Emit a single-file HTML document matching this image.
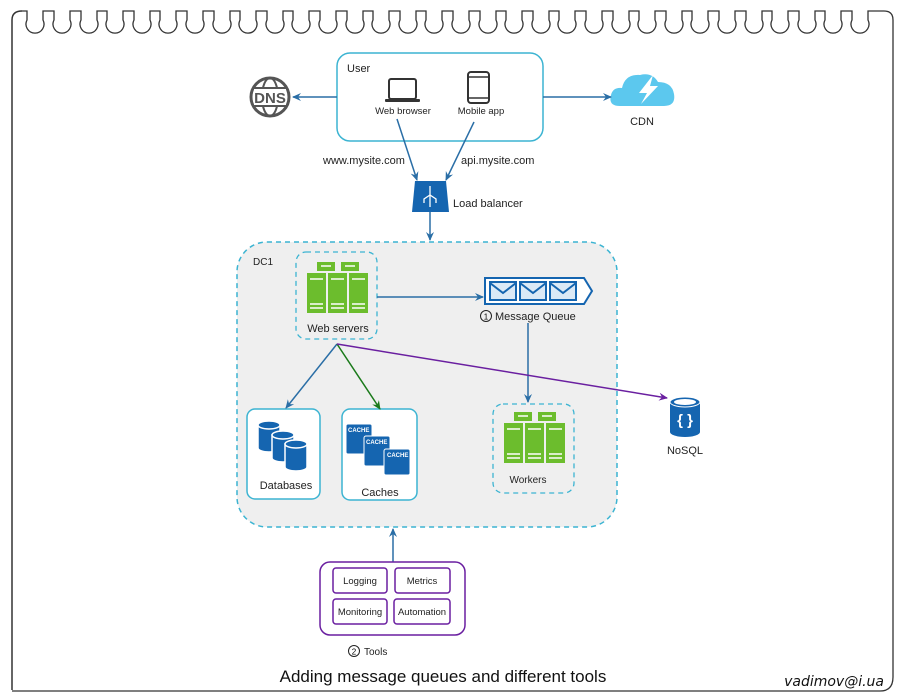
<!DOCTYPE html>
<html><head><meta charset="utf-8"><style>
html,body{margin:0;padding:0;background:#fff;}
svg{display:block;font-family:"Liberation Sans",Arial,sans-serif;}
</style></head><body>
<svg width="900" height="700" viewBox="0 0 900 700" xmlns="http://www.w3.org/2000/svg">
<defs>
<marker id="ab" markerWidth="10" markerHeight="10" refX="8" refY="5" orient="auto" markerUnits="userSpaceOnUse"><path d="M0,1 L9,5 L0,9 L3,5 Z" fill="#2a6ea6"/></marker>
<marker id="ag" markerWidth="10" markerHeight="10" refX="8" refY="5" orient="auto" markerUnits="userSpaceOnUse"><path d="M0,1 L9,5 L0,9 L3,5 Z" fill="#1a7a1a"/></marker>
<marker id="ap" markerWidth="10" markerHeight="10" refX="8" refY="5" orient="auto" markerUnits="userSpaceOnUse"><path d="M0,1 L9,5 L0,9 L3,5 Z" fill="#6a1fa0"/></marker>
<g id="srv">
<rect x="10" y="0" width="18" height="9" fill="#6cbd2d"/><rect x="34" y="0" width="18" height="9" fill="#6cbd2d"/>
<rect x="0" y="11" width="19" height="40" fill="#6cbd2d"/><rect x="21" y="11" width="19" height="40" fill="#6cbd2d"/><rect x="42" y="11" width="19" height="40" fill="#6cbd2d"/>
<g stroke="#fff" stroke-width="1.5"><line x1="3" y1="17" x2="16" y2="17"/><line x1="24" y1="17" x2="37" y2="17"/><line x1="45" y1="17" x2="58" y2="17"/>
<line x1="3" y1="42" x2="16" y2="42"/><line x1="24" y1="42" x2="37" y2="42"/><line x1="45" y1="42" x2="58" y2="42"/>
<line x1="3" y1="46" x2="16" y2="46"/><line x1="24" y1="46" x2="37" y2="46"/><line x1="45" y1="46" x2="58" y2="46"/>
<line x1="14" y1="4" x2="24" y2="4"/><line x1="38" y1="4" x2="48" y2="4"/></g>
</g>
</defs>

<path d="M12,690 L12,20 Q12,11 22,11" fill="none" stroke="#333" stroke-width="1.5"/>
<path fill="none" stroke="#333" stroke-width="1.3" d="M22,11
L27,11 L27,20 A9,9 0 1 0 43,20 L43,11
L54,11 L54,20 A9,9 0 1 0 70,20 L70,11
L81,11 L81,20 A9,9 0 1 0 97,20 L97,11
L107,11 L107,20 A9,9 0 1 0 123,20 L123,11
L134,11 L134,20 A9,9 0 1 0 150,20 L150,11
L160,11 L160,20 A9,9 0 1 0 176,20 L176,11
L187,11 L187,20 A9,9 0 1 0 203,20 L203,11
L214,11 L214,20 A9,9 0 1 0 230,20 L230,11
L240,11 L240,20 A9,9 0 1 0 256,20 L256,11
L267,11 L267,20 A9,9 0 1 0 283,20 L283,11
L293,11 L293,20 A9,9 0 1 0 309,20 L309,11
L320,11 L320,20 A9,9 0 1 0 336,20 L336,11
L347,11 L347,20 A9,9 0 1 0 363,20 L363,11
L373,11 L373,20 A9,9 0 1 0 389,20 L389,11
L400,11 L400,20 A9,9 0 1 0 416,20 L416,11
L426,11 L426,20 A9,9 0 1 0 442,20 L442,11
L453,11 L453,20 A9,9 0 1 0 469,20 L469,11
L480,11 L480,20 A9,9 0 1 0 496,20 L496,11
L506,11 L506,20 A9,9 0 1 0 522,20 L522,11
L533,11 L533,20 A9,9 0 1 0 549,20 L549,11
L559,11 L559,20 A9,9 0 1 0 575,20 L575,11
L586,11 L586,20 A9,9 0 1 0 602,20 L602,11
L613,11 L613,20 A9,9 0 1 0 629,20 L629,11
L639,11 L639,20 A9,9 0 1 0 655,20 L655,11
L666,11 L666,20 A9,9 0 1 0 682,20 L682,11
L692,11 L692,20 A9,9 0 1 0 708,20 L708,11
L719,11 L719,20 A9,9 0 1 0 735,20 L735,11
L746,11 L746,20 A9,9 0 1 0 762,20 L762,11
L772,11 L772,20 A9,9 0 1 0 788,20 L788,11
L799,11 L799,20 A9,9 0 1 0 815,20 L815,11
L825,11 L825,20 A9,9 0 1 0 841,20 L841,11
L852,11 L852,20 A9,9 0 1 0 868,20 L868,11
L884,11 Q893,11 893,20 L893,677 Q893,691 880,691 L12,691"/>

<rect x="337" y="53" width="206" height="88" rx="13" fill="#fff" stroke="#3cb4d2" stroke-width="1.5"/>
<text x="347" y="72" font-size="11" fill="#222">User</text>
<rect x="389" y="79" width="27" height="20" rx="2" fill="none" stroke="#333" stroke-width="2"/>
<rect x="385" y="99" width="35" height="3" rx="1" fill="#333"/>
<text x="403" y="114" font-size="9.5" fill="#222" text-anchor="middle">Web browser</text>
<rect x="468" y="72" width="21" height="31" rx="3" fill="none" stroke="#333" stroke-width="2"/>
<line x1="468" y1="77" x2="489" y2="77" stroke="#333" stroke-width="1.5"/><line x1="468" y1="98" x2="489" y2="98" stroke="#333" stroke-width="1.5"/>
<text x="481" y="114" font-size="9.5" fill="#222" text-anchor="middle">Mobile app</text>

<circle cx="270" cy="97" r="19" fill="none" stroke="#555" stroke-width="3"/>
<ellipse cx="270" cy="97" rx="8" ry="19" fill="none" stroke="#555" stroke-width="2"/>
<line x1="253" y1="88" x2="287" y2="88" stroke="#555" stroke-width="2"/><line x1="253" y1="106" x2="287" y2="106" stroke="#555" stroke-width="2"/>
<rect x="254" y="89" width="32" height="16" fill="#fff"/>
<text x="270" y="103" font-size="15" font-weight="bold" fill="#555" text-anchor="middle">DNS</text>
<line x1="337" y1="97" x2="293" y2="97" stroke="#2a6ea6" stroke-width="1.5" marker-end="url(#ab)"/>

<path d="M620,106 Q608,106 611,95 Q613,87 622,88 Q625,74 640,75 Q652,72 658,82 Q672,82 674,94 Q676,106 664,106 Z" fill="#5cc8ee"/>
<path d="M653,75 L639,93 L647,93 L641,104 L658,86 L650,86 Z" fill="#fff"/>
<text x="642" y="125" font-size="11" fill="#222" text-anchor="middle">CDN</text>
<line x1="543" y1="97" x2="611" y2="97" stroke="#2a6ea6" stroke-width="1.5" marker-end="url(#ab)"/>

<text x="323" y="164" font-size="11" fill="#222">www.mysite.com</text>
<text x="461" y="164" font-size="11" fill="#222">api.mysite.com</text>
<line x1="397" y1="119" x2="417" y2="180" stroke="#2a6ea6" stroke-width="1.5" marker-end="url(#ab)"/>
<line x1="474" y1="122" x2="446" y2="180" stroke="#2a6ea6" stroke-width="1.5" marker-end="url(#ab)"/>

<path d="M415,181 L446,181 L449,212 L412,212 Z" fill="#1565b0"/>
<g stroke="#fff" stroke-width="1.3" fill="none"><line x1="430" y1="186" x2="430" y2="207"/><path d="M430,195 L424,199 L424,203 M430,195 L436,199 L436,203"/></g>
<text x="453" y="207" font-size="11" fill="#222">Load balancer</text>
<line x1="430" y1="212" x2="430" y2="240" stroke="#2a6ea6" stroke-width="1.5" marker-end="url(#ab)"/>

<rect x="237" y="242" width="380" height="285" rx="30" fill="#efefef" stroke="#3cb4d2" stroke-width="1.5" stroke-dasharray="5,4"/>
<text x="253" y="265" font-size="10" fill="#222">DC1</text>

<rect x="296" y="252" width="81" height="87" rx="10" fill="none" stroke="#3cb4d2" stroke-width="1.3" stroke-dasharray="5,4"/>
<use href="#srv" x="307" y="262"/>
<text x="338" y="332" font-size="11" fill="#222" text-anchor="middle">Web servers</text>

<line x1="377" y1="297" x2="483" y2="297" stroke="#2a6ea6" stroke-width="1.5" marker-end="url(#ab)"/>
<path d="M485,278 L584,278 L592,291 L584,304 L485,304 Z" fill="#fff" stroke="#1565b0" stroke-width="2"/>
<g fill="#dbe9f6" stroke="#1565b0" stroke-width="2">
<rect x="490" y="282" width="26" height="18"/><rect x="520" y="282" width="26" height="18"/><rect x="550" y="282" width="26" height="18"/></g>
<g fill="none" stroke="#1565b0" stroke-width="2"><path d="M490,283 L503,293 L516,283"/><path d="M520,283 L533,293 L546,283"/><path d="M550,283 L563,293 L576,283"/></g>
<circle cx="486" cy="316" r="5.5" fill="none" stroke="#222" stroke-width="1"/><text x="486" y="319.5" font-size="8" text-anchor="middle">1</text>
<text x="495" y="320" font-size="11" fill="#222">Message Queue</text>
<line x1="528" y1="323" x2="528" y2="402" stroke="#2a6ea6" stroke-width="1.5" marker-end="url(#ab)"/>

<rect x="493" y="404" width="81" height="89" rx="10" fill="none" stroke="#3cb4d2" stroke-width="1.3" stroke-dasharray="5,4"/>
<use href="#srv" x="504" y="412"/>
<text x="528" y="483" font-size="10" fill="#222" text-anchor="middle">Workers</text>

<rect x="247" y="409" width="73" height="90" rx="8" fill="#fff" stroke="#3cb4d2" stroke-width="1.5"/>
<g fill="#1565b0" stroke="#fff" stroke-width="1.5">
<path d="M258,425 L258,448 A11,4 0 0 0 280,448 L280,425 Z"/><ellipse cx="269" cy="425" rx="11" ry="4"/>
<path d="M272,435 L272,458 A11,4 0 0 0 294,458 L294,435 Z"/><ellipse cx="283" cy="435" rx="11" ry="4"/>
<path d="M285,444 L285,467 A11,4 0 0 0 307,467 L307,444 Z"/><ellipse cx="296" cy="444" rx="11" ry="4"/></g>
<text x="286" y="489" font-size="11" fill="#222" text-anchor="middle">Databases</text>

<rect x="342" y="409" width="75" height="91" rx="8" fill="#fff" stroke="#3cb4d2" stroke-width="1.5"/>
<g fill="#1565b0" stroke="#fff" stroke-width="1"><rect x="346" y="424" width="26" height="30" rx="2"/><rect x="364" y="436" width="26" height="30" rx="2"/><rect x="384" y="449" width="26" height="26" rx="2"/></g>
<g font-size="6" fill="#fff" font-weight="bold"><text x="348" y="432">CACHE</text><text x="366" y="444">CACHE</text><text x="387" y="457">CACHE</text></g>
<text x="380" y="496" font-size="11" fill="#222" text-anchor="middle">Caches</text>

<line x1="337" y1="344" x2="286" y2="408" stroke="#2a6ea6" stroke-width="1.5" marker-end="url(#ab)"/>
<line x1="337" y1="344" x2="380" y2="409" stroke="#1a7a1a" stroke-width="1.5" marker-end="url(#ag)"/>
<line x1="337" y1="344" x2="667" y2="398" stroke="#6a1fa0" stroke-width="1.5" marker-end="url(#ap)"/>

<path d="M670,402 L670,432 A15,5 0 0 0 700,432 L700,402 Z" fill="#1565b0"/>
<ellipse cx="685" cy="402" rx="15" ry="5" fill="#1565b0" stroke="#fff" stroke-width="1"/>
<ellipse cx="685" cy="402" rx="11" ry="3" fill="#fff"/>
<text x="685" y="425" font-size="15" font-weight="bold" fill="#fff" text-anchor="middle">{ }</text>
<text x="685" y="454" font-size="11" fill="#222" text-anchor="middle">NoSQL</text>

<line x1="393" y1="562" x2="393" y2="529" stroke="#2a6ea6" stroke-width="1.5" marker-end="url(#ab)"/>
<rect x="320" y="562" width="145" height="73" rx="10" fill="#fff" stroke="#6a1fa0" stroke-width="1.5"/>
<g fill="#fff" stroke="#6a1fa0" stroke-width="1.5">
<rect x="333" y="568" width="54" height="25" rx="3"/><rect x="395" y="568" width="55" height="25" rx="3"/>
<rect x="333" y="599" width="54" height="25" rx="3"/><rect x="394" y="599" width="56" height="25" rx="3"/></g>
<g font-size="9.5" fill="#222" text-anchor="middle"><text x="360" y="584">Logging</text><text x="422" y="584">Metrics</text><text x="360" y="615">Monitoring</text><text x="422" y="615">Automation</text></g>
<circle cx="354" cy="651" r="5.5" fill="none" stroke="#222" stroke-width="1"/><text x="354" y="654.5" font-size="8" text-anchor="middle">2</text>
<text x="364" y="655" font-size="10" fill="#222">Tools</text>

<text x="443" y="682" font-size="17" fill="#111" text-anchor="middle">Adding message queues and different tools</text>
<text x="884" y="686" font-size="14" font-style="italic" fill="#111" text-anchor="end" font-family="DejaVu Sans, sans-serif">vadimov@i.ua</text>
</svg>
</body></html>
